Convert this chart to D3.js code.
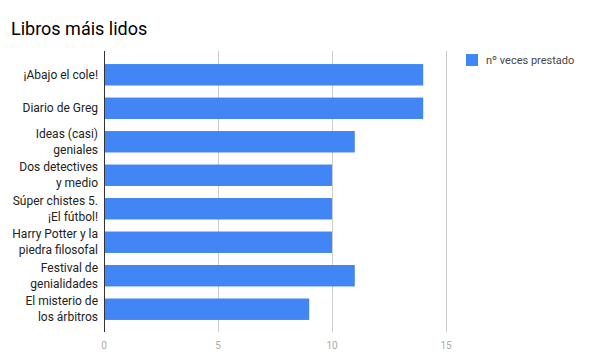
<!DOCTYPE html>
<html lang="en">
<head>
<meta charset="UTF-8">
<title>Libros máis lidos</title>
<script src="https://d3js.org/d3.v7.min.js"></script>
<style>
  body { margin: 0; background: #fff; }
  svg { display: block; font-family: Roboto, sans-serif; }
</style>
</head>
<body>
<svg id="chart" width="592" height="357"></svg>
<script>
// data
var books = [
  ["¡Abajo el cole!"],
  ["Diario de Greg"],
  ["Ideas (casi)", "geniales"],
  ["Dos detectives", "y medio"],
  ["Súper chistes 5.", "¡El fútbol!"],
  ["Harry Potter y la", "piedra filosofal"],
  ["Festival de", "genialidades"],
  ["El misterio de", "los árbitros"]
];
var timesLent = [14, 14, 11, 10, 10, 10, 11, 9];
var xTicks = [0, 5, 10, 15];
var seriesName = "nº veces prestado";

var svg = d3.select("#chart");
var plotLeft = 104, plotRight = 446, plotTop = 51, plotBottom = 332;

var x = d3.scaleLinear().domain([0, 15]).range([plotLeft, plotRight]);
var y = d3.scaleBand()
  .domain(d3.range(books.length))
  .range([plotTop + 1, plotBottom])
  .padding(0.36);

// title
svg.append("text")
  .attr("x", 11).attr("y", 35)
  .style("font-size", "18px")
  .attr("fill", "#000")
  .text("Libros máis lidos");

// gridlines
svg.selectAll("line.grid")
  .data(xTicks.slice(1))
  .enter().append("line")
  .attr("x1", d => x(d) + 0.5).attr("x2", d => x(d) + 0.5)
  .attr("y1", plotTop).attr("y2", plotBottom)
  .attr("stroke", "#cccccc").attr("stroke-width", 1);

// bars
svg.selectAll("rect.bar")
  .data(timesLent)
  .enter().append("rect")
  .attr("x", x(0))
  .attr("y", (d, i) => y(i))
  .attr("width", d => x(d) - x(0))
  .attr("height", y.bandwidth())
  .attr("fill", "#4285f4");

// baseline
svg.append("line")
  .attr("x1", x(0) + 0.5).attr("x2", x(0) + 0.5)
  .attr("y1", plotTop).attr("y2", plotBottom)
  .attr("stroke", "#333").attr("stroke-width", 1);

// tick labels
svg.selectAll("text.tick")
  .data(xTicks)
  .enter().append("text")
  .attr("x", d => x(d))
  .attr("y", 349)
  .attr("text-anchor", "middle")
  .style("font-size", "10px")
  .attr("fill", "#aaaaaa")
  .text(d => d);

// category labels
var lab = svg.selectAll("text.cat")
  .data(books)
  .enter().append("text")
  .attr("text-anchor", "end")
  .style("font-size", "12px")
  .attr("fill", "#222");
lab.selectAll("tspan")
  .data((d, i) => d.map(t => ({t: t, i: i, n: d.length})))
  .enter().append("tspan")
  .attr("x", 98)
  .attr("y", (d, k) => y(d.i) + y.bandwidth() / 2 + 4 + (k - (d.n - 1) / 2) * 16)
  .text(d => d.t);

// legend
svg.append("rect")
  .attr("x", 466).attr("y", 54)
  .attr("width", 12).attr("height", 12)
  .attr("fill", "#4285f4");
svg.append("text")
  .attr("x", 486).attr("y", 64)
  .style("font-size", "11px")
  .attr("fill", "#444")
  .text(seriesName);
</script>
</body>
</html>
